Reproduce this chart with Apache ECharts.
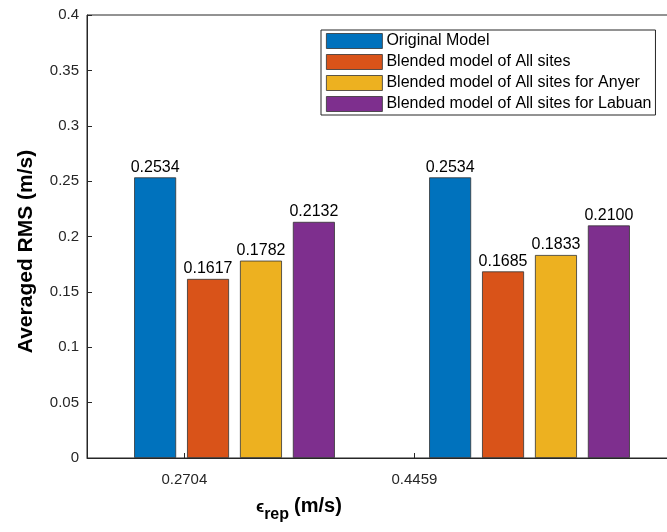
<!DOCTYPE html>
<html>
<head>
<meta charset="utf-8">
<script src="https://cdn.jsdelivr.net/npm/echarts@6/dist/echarts.min.js"></script>
<style>
  html, body { margin: 0; padding: 0; background: #fff; overflow: hidden; }
  #chart { width: 680px; height: 532px; }
</style>
</head>
<body>
<div id="chart"></div>
<script>
// categories and series values
var categories = ["0.2704", "0.4459"];
var seriesNames = [
  "Original Model",
  "Blended model of All sites",
  "Blended model of All sites for Anyer",
  "Blended model of All sites for Labuan",
];
var originalModel = [0.2534, 0.2534];
var blendedAll = [0.1617, 0.1685];
var blendedAnyer = [0.1782, 0.1833];
var blendedLabuan = [0.2132, 0.21];
// x tick positions (in group units, 1 = first group) where the labels sit
var tickPositions = [0.83, 1.61];

var colors = ["#0072BD", "#D95319", "#EDB120", "#7E2F8E"];
var axisColor = "#262626";
var font = "Liberation Sans, Arial, Helvetica, sans-serif";

var chart = echarts.init(document.getElementById("chart"));

function barSeries(name, data, color) {
  return {
    name: name,
    type: "bar",
    xAxisIndex: 0,
    data: data,
    barWidth: 42,
    barGap: "26%",
    itemStyle: { color: color, borderColor: "#333", borderWidth: 0.8 },
    label: {
      show: true,
      position: "top",
      distance: 2,
      color: "#000",
      fontFamily: font,
      fontSize: 16,
      formatter: function (p) {
        return p.value.toFixed(4);
      },
    },
  };
}

var options = {
  animation: false,
  textStyle: { fontFamily: font },
  grid: {
    left: 87,
    right: 3, // plot box runs past the window edge, as in the original
    top: 15,
    bottom: 74,
    show: true,
    borderColor: axisColor,
    borderWidth: 1,
    containLabel: false,
  },
  title: {
    text: "{e|ϵ}{sub|rep} {b|(m/s)}",
    left: 256,
    top: 495,
    padding: 0,
    textStyle: {
      rich: {
        e: { fontSize: 17, fontFamily: font, color: "#000", padding: [0, 0, 4, 0] },
        sub: { fontSize: 16, fontWeight: "bold", fontFamily: font, color: "#000", padding: [12, 0, 0, 0] },
        b: { fontSize: 20, fontWeight: "bold", fontFamily: font, color: "#000", padding: [0, 0, 6, 0] },
      },
    },
  },
  legend: {
    orient: "vertical",
    left: 321,
    top: 30,
    data: seriesNames,
    icon: "rect",
    itemWidth: 56,
    itemHeight: 15,
    itemGap: 5,
    padding: [3, 4, 3, 5],
    borderColor: axisColor,
    borderWidth: 1,
    backgroundColor: "#fff",
    selectedMode: false,
    textStyle: { fontSize: 16, lineHeight: 16, color: "#000", fontFamily: font, padding: [0, 0, 0, -1] },
    itemStyle: { borderColor: "#333", borderWidth: 0.8 },
  },
  xAxis: [
    {
      type: "category",
      data: categories,
      position: "bottom",
      axisLine: { show: true, lineStyle: { color: axisColor, width: 1 } },
      axisTick: { show: false },
      axisLabel: { show: false },
      splitLine: { show: false },
    },
    {
      type: "value",
      min: 0.5,
      max: 2.5,
      position: "bottom",
      axisLine: { show: false },
      axisTick: {
        show: true,
        inside: true,
        length: 5,
        customValues: tickPositions,
        lineStyle: { color: axisColor },
      },
      axisLabel: {
        show: true,
        customValues: tickPositions,
        margin: 14,
        fontSize: 15,
        color: axisColor,
        fontFamily: font,
        formatter: function (v) {
          var i = tickPositions.indexOf(v);
          return i >= 0 ? categories[i] : "";
        },
      },
      splitLine: { show: false },
    },
  ],
  yAxis: {
    type: "value",
    min: 0,
    max: 0.4,
    interval: 0.05,
    name: "Averaged RMS (m/s)",
    nameLocation: "middle",
    nameGap: 50,
    nameTextStyle: {
      fontSize: 21,
      fontWeight: "bold",
      color: "#000",
      fontFamily: font,
      padding: [0, 30, 0, 0],
    },
    axisLine: { show: true, lineStyle: { color: axisColor, width: 1 } },
    axisTick: { show: true, inside: true, length: 5, lineStyle: { color: axisColor } },
    axisLabel: {
      margin: 8,
      fontSize: 15,
      color: axisColor,
      fontFamily: font,
      formatter: function (v) {
        return String(parseFloat(v.toFixed(2)));
      },
    },
    splitLine: { show: false },
  },
  series: [
    barSeries(seriesNames[0], originalModel, colors[0]),
    barSeries(seriesNames[1], blendedAll, colors[1]),
    barSeries(seriesNames[2], blendedAnyer, colors[2]),
    barSeries(seriesNames[3], blendedLabuan, colors[3]),
  ],
};

chart.setOption(options);
</script>
</body>
</html>
